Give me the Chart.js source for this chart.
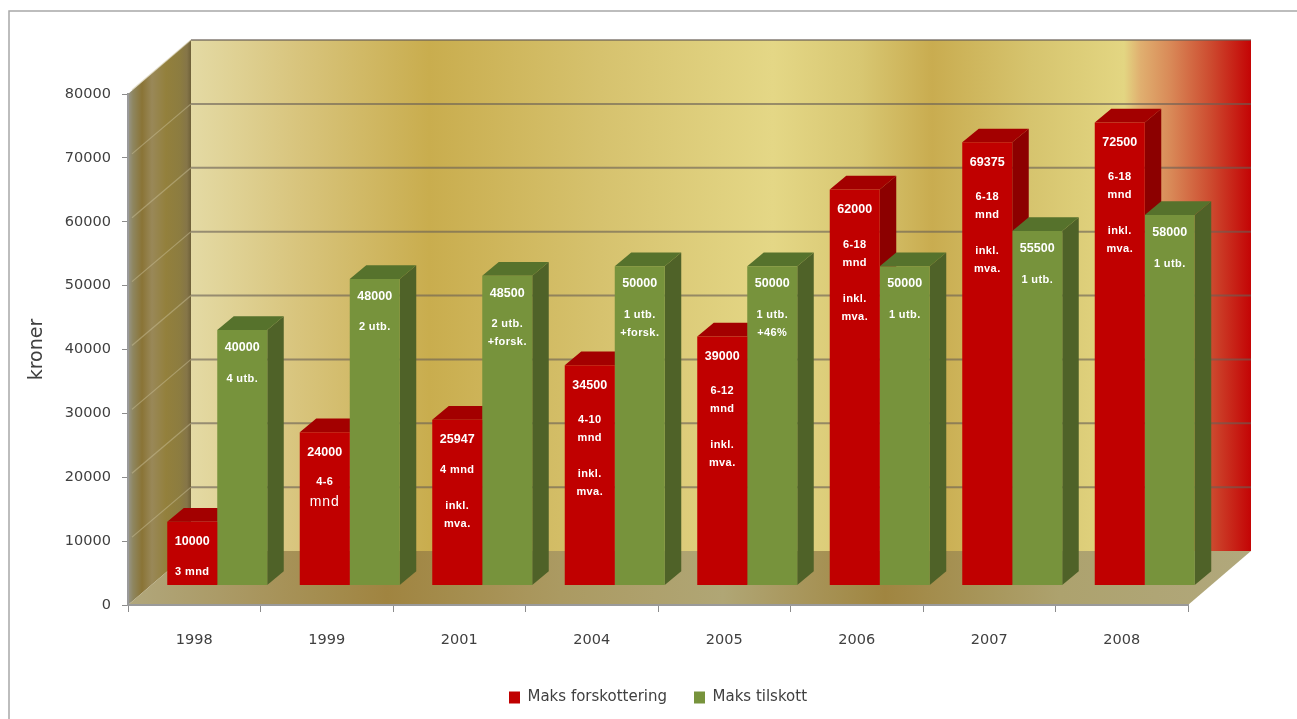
<!DOCTYPE html>
<html>
<head>
<meta charset="utf-8">
<title>Maks forskottering og tilskott</title>
<script src="https://cdn.jsdelivr.net/npm/chart.js@4"></script>
<style>
  html, body { margin: 0; padding: 0; background: #fff; overflow: hidden; }
  #stats { display: block; filter: blur(0.45px); }
</style>
</head>
<body>
<canvas id="stats" width="1297" height="719"></canvas>
<script>
const categories = ["1998", "1999", "2001", "2004", "2005", "2006", "2007", "2008"];
const forskottering = [10000, 24000, 25947, 34500, 39000, 62000, 69375, 72500];
const tilskott = [40000, 48000, 48500, 50000, 50000, 50000, 55500, 58000];
const forskotteringNotes = [
  ["3 mnd"],
  ["4-6", "mnd"],
  ["4 mnd", "", "inkl.", "mva."],
  ["4-10", "mnd", "", "inkl.", "mva."],
  ["6-12", "mnd", "", "inkl.", "mva."],
  ["6-18", "mnd", "", "inkl.", "mva."],
  ["6-18", "mnd", "", "inkl.", "mva."],
  ["6-18", "mnd", "", "inkl.", "mva."],
];
const tilskottNotes = [
  ["4 utb."],
  ["2 utb."],
  ["2 utb.", "+forsk."],
  ["1 utb.", "+forsk."],
  ["1 utb.", "+46%"],
  ["1 utb."],
  ["1 utb."],
  ["1 utb."],
];

const RED = "#c00000", RED_TOP = "#a30000", RED_SIDE = "#8c0000";
const GREEN = "#77933c", GREEN_TOP = "#56722c", GREEN_SIDE = "#4f6228";
const TEXT = "#404040";
const FONT = "'DejaVu Sans', sans-serif";

// room depth and where the bars stand on the floor
const WALL_DX = 63, WALL_DY = -54;
const BAR_DX = 23, BAR_DY = -19.5;
const BAR_DEPTH_X = 16.5, BAR_DEPTH_Y = -13.7;

const stops = (ctx, x0, x1, list) => {
  const g = ctx.createLinearGradient(x0, 0, x1, 0);
  list.forEach(([x, c]) => g.addColorStop((x - x0) / (x1 - x0), c));
  return g;
};

const poly = (ctx, fill, pts) => {
  ctx.fillStyle = fill;
  ctx.beginPath();
  pts.forEach(([x, y], i) => (i ? ctx.lineTo(x, y) : ctx.moveTo(x, y)));
  ctx.closePath();
  ctx.fill();
};

const room = {
  id: "room",
  beforeDraw(chart) {
    const { ctx } = chart;
    const { x, y } = chart.scales;
    const l = x.left, r = x.right, t = y.top, b = y.bottom;

    // frame round the picture, open at the right and bottom
    ctx.save();
    ctx.strokeStyle = "#a8a8a8";
    ctx.lineWidth = 1.5;
    ctx.beginPath();
    ctx.moveTo(9, 719);
    ctx.lineTo(9, 11);
    ctx.lineTo(1297, 11);
    ctx.stroke();

    poly(ctx, stops(ctx, l + WALL_DX, r + WALL_DX, [
      [191, "#e4daa4"], [300, "#d8c47c"], [429, "#c9ad4e"], [600, "#d6c26e"], [773, "#e4d786"],
      [860, "#d8c772"], [932, "#c9ac50"], [1030, "#d6c46e"], [1124, "#e3d682"], [1140, "#e0b070"],
      [1170, "#d98a58"], [1210, "#cd4c30"], [1250, "#c40606"],
    ]), [[l + WALL_DX, t + WALL_DY], [r + WALL_DX, t + WALL_DY], [r + WALL_DX, b + WALL_DY], [l + WALL_DX, b + WALL_DY]]);

    poly(ctx, stops(ctx, l, l + WALL_DX, [
      [128, "#98968a"], [133, "#8e8660"], [142, "#8a7436"], [152, "#998858"], [166, "#93803c"],
      [180, "#8c7c40"], [187, "#857548"], [191, "#6e6038"],
    ]), [[l, t], [l + WALL_DX, t + WALL_DY], [l + WALL_DX, b + WALL_DY], [l, b]]);

    poly(ctx, stops(ctx, l, r + WALL_DX, [
      [128, "#b1a77c"], [387, "#a08440"], [560, "#ab9a62"], [723, "#b0a675"], [885, "#a08540"],
      [1060, "#ada26e"], [1250, "#b1a87c"],
    ]), [[l, b], [r, b], [r + WALL_DX, b + WALL_DY], [l + WALL_DX, b + WALL_DY]]);

    // grid lines on back wall and side wall
    y.ticks.forEach((tick) => {
      const py = y.getPixelForValue(tick.value);
      if (tick.value === 0) return;
      ctx.strokeStyle = "rgba(105,95,85,0.62)";
      ctx.lineWidth = 2;
      ctx.beginPath();
      ctx.moveTo(l + WALL_DX, py + WALL_DY);
      ctx.lineTo(r + WALL_DX, py + WALL_DY);
      ctx.stroke();
      ctx.strokeStyle = "rgba(200,190,150,0.5)";
      ctx.lineWidth = 1.3;
      ctx.beginPath();
      ctx.moveTo(l + 4, py - 4);
      ctx.lineTo(l + WALL_DX, py + WALL_DY);
      ctx.stroke();
    });
    ctx.restore();
  },
};

const drawBox = (ctx, bar, top, side) => {
  const x0 = bar.x - bar.width / 2, x1 = bar.x + bar.width / 2;
  const dx = BAR_DEPTH_X, dy = BAR_DEPTH_Y;
  poly(ctx, side, [[x1, bar.y], [x1 + dx, bar.y + dy], [x1 + dx, bar.base + dy], [x1, bar.base]]);
  poly(ctx, top, [[x0, bar.y], [x0 + dx, bar.y + dy], [x1 + dx, bar.y + dy], [x1, bar.y]]);
};

const drawNotes = (ctx, bar, value, notes, valueGap, noteGap, thin) => {
  ctx.fillStyle = "#fff";
  ctx.textAlign = "center";
  ctx.textBaseline = "middle";
  ctx.font = "bold 12.5px 'Liberation Sans', sans-serif";
  ctx.letterSpacing = "0px";
  ctx.fillText(String(value), bar.x, bar.y + valueGap);
  notes.forEach((line, i) => {
    const isThin = thin && line === "mnd";
    ctx.font = isThin ? "14px 'Liberation Sans', sans-serif" : "bold 11px 'Liberation Sans', sans-serif";
    ctx.letterSpacing = isThin ? "1px" : "0.4px";
    const step = thin ? 20 : 18;
    ctx.fillText(line, bar.x, bar.y + valueGap + noteGap + i * step);
  });
  ctx.letterSpacing = "0px";
};

// bars stand in from the axis plane, so shift them and add the two hidden faces
const boxes = {
  id: "boxes",
  beforeDatasetsDraw(chart) {
    const { ctx } = chart;
    ctx.save();
    ctx.translate(BAR_DX, BAR_DY);
    chart.getDatasetMeta(0).data.forEach((bar) => drawBox(ctx, bar, RED_TOP, RED_SIDE));
    chart.getDatasetMeta(1).data.forEach((bar) => drawBox(ctx, bar, GREEN_TOP, GREEN_SIDE));
  },
  afterDatasetsDraw(chart) {
    const { ctx } = chart;
    chart.getDatasetMeta(0).data.forEach((bar, i) => {
      const notes = forskotteringNotes[i];
      const noteGap = notes.length === 5 ? 35 : 30;
      drawNotes(ctx, bar, forskottering[i], notes, 20, noteGap, notes.length === 2);
    });
    chart.getDatasetMeta(1).data.forEach((bar, i) => {
      drawNotes(ctx, bar, tilskott[i], tilskottNotes[i], 17.5, 31, false);
    });
    ctx.restore();
  },
};

new Chart(document.getElementById("stats"), {
  type: "bar",
  data: {
    labels: categories,
    datasets: [
      { label: "Maks forskottering", data: forskottering, backgroundColor: RED, clip: false },
      { label: "Maks tilskott", data: tilskott, backgroundColor: GREEN, clip: false },
    ],
  },
  plugins: [room, boxes],
  options: {
    responsive: false,
    animation: false,
    devicePixelRatio: 1,
    categoryPercentage: 100 / 132.5,
    barPercentage: 1,
    layout: { padding: { top: 94, right: 109, left: 0, bottom: 4 } },
    plugins: {
      tooltip: { enabled: false },
      legend: {
        position: "bottom",
        fullSize: false,
        labels: {
          boxWidth: 11,
          boxHeight: 12,
          padding: 27,
          color: TEXT,
          font: { family: FONT, size: 15 },
        },
      },
    },
    scales: {
      x: {
        afterFit: (s) => { s.height = 58; },
        grid: { drawOnChartArea: false, tickLength: 7, tickColor: "#8c8c8c" },
        border: { color: "#9a9a9a", width: 2 },
        ticks: { color: TEXT, padding: 20, maxRotation: 0, autoSkip: false, font: { family: FONT, size: 14.5 } },
      },
      y: {
        min: 0,
        max: 80000,
        afterFit: (s) => { s.width = 128; },
        grid: { drawOnChartArea: false, tickLength: 6, tickColor: "#8c8c8c" },
        border: { color: "#9a9a9a", width: 2 },
        title: {
          display: true,
          text: "kroner",
          color: TEXT,
          padding: { top: 26, bottom: 0 },
          font: { family: FONT, size: 19 },
        },
        ticks: {
          stepSize: 10000,
          color: TEXT,
          padding: 11,
          font: { family: FONT, size: 14.5 },
          callback: (v) => String(v),
        },
      },
    },
  },
});
</script>
</body>
</html>
